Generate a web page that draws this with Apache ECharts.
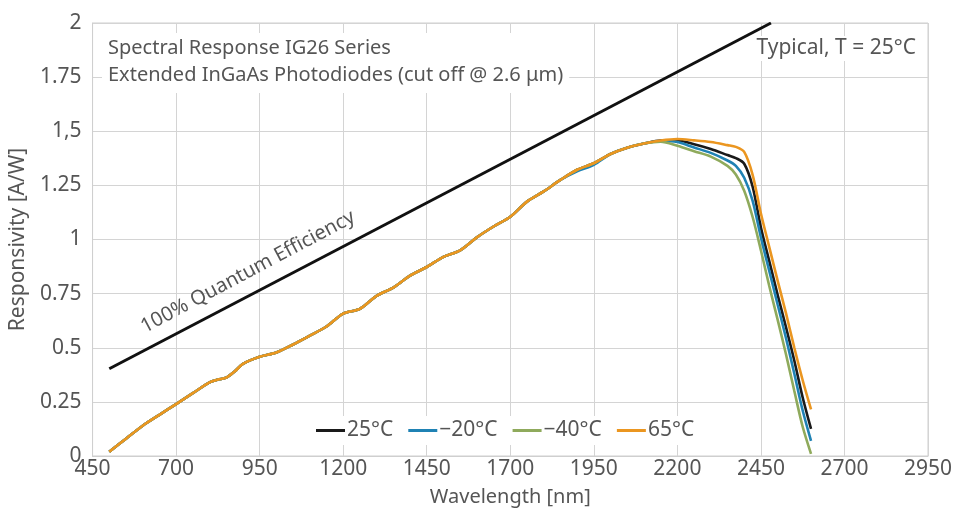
<!DOCTYPE html>
<html>
<head>
<meta charset="utf-8">
<script src="https://cdn.jsdelivr.net/npm/echarts@6/dist/echarts.min.js"></script>
<style>
  html, body { margin: 0; padding: 0; background: #fff; }
  #chart { width: 956px; height: 512px; }
</style>
</head>
<body>
<div id="chart"></div>
<script>
// wavelength grid (nm) shared by the four measured curves
const wavelengths = [500, 550, 600, 650, 700, 750, 800, 825, 850, 875, 900, 950, 1000, 1050, 1100, 1150,
  1200, 1250, 1300, 1350, 1400, 1450, 1500, 1550, 1600, 1650, 1700, 1750, 1800, 1850, 1900, 1950,
  2000, 2050, 2100, 2150, 2200, 2250, 2300, 2350, 2375, 2400, 2425, 2450, 2475, 2500, 2525, 2550, 2575, 2600];

// shared rising part (500 .. 2100 nm)
const rise = [0.02, 0.08, 0.14, 0.19, 0.24, 0.29, 0.34, 0.353, 0.362, 0.39, 0.425, 0.458, 0.478, 0.515, 0.556, 0.598,
  0.658, 0.68, 0.74, 0.778, 0.833, 0.873, 0.92, 0.95, 1.01, 1.06, 1.105, 1.175, 1.222, 1.275, 1.322, 1.352,
  1.395, 1.424, 1.443];

// 2150 .. 2600 nm
const tail25 = [1.457, 1.457, 1.44, 1.418, 1.39, 1.376, 1.35, 1.245, 1.055, 0.9, 0.745, 0.595, 0.44, 0.27, 0.125];
const tailM20 = [1.455, 1.45, 1.425, 1.4, 1.365, 1.34, 1.285, 1.18, 1.01, 0.855, 0.7, 0.545, 0.38, 0.21, 0.07];
const tailM40 = [1.452, 1.433, 1.408, 1.383, 1.34, 1.3, 1.225, 1.105, 0.95, 0.785, 0.63, 0.47, 0.3, 0.135, 0.01];
const tail65 = [1.457, 1.464, 1.458, 1.45, 1.436, 1.428, 1.405, 1.3, 1.12, 0.965, 0.81, 0.66, 0.5, 0.35, 0.215];

const resp25 = rise.concat(tail25);
const respM20 = rise.slice(0, 30).concat([1.315, 1.345], rise.slice(32)).concat(tailM20);
const respM40 = rise.concat(tailM40);
const resp65 = rise.concat(tail65);

// 100% quantum efficiency line
const qeX = [500, 2480];
const qeY = [0.403, 2.0];

const seriesNames = ["25°C", "−20°C", "−40°C", "65°C"];
const seriesColors = ["#1a1a1a", "#1f82b4", "#8faa5c", "#eb9620"];
const seriesValues = [resp25, respM20, respM40, resp65];

const xTicks = [450, 700, 950, 1200, 1450, 1700, 1950, 2200, 2450, 2700, 2950];
const yTicks = [0, 0.25, 0.5, 0.75, 1, 1.25, 1.5, 1.75, 2];
const yTickLabels = ["0", "0.25", "0.5", "0.75", "1", "1.25", "1,5", "1.75", "2"];

function pairs(xs, ys) {
  return xs.map((x, i) => [x, ys[i]]);
}

const textColor = "#555";
const fontFamily = "Noto Sans";

let chart = echarts.init(document.getElementById("chart"));

let series = seriesValues.map((vals, i) => ({
  name: seriesNames[i],
  type: "line",
  data: pairs(wavelengths, vals),
  smooth: 0.3,
  symbol: "none",
  lineStyle: { width: 2.6, color: seriesColors[i] },
  itemStyle: { color: seriesColors[i] },
  z: 3 + i,
}));

series.unshift({
  name: "QE",
  type: "line",
  data: pairs(qeX, qeY),
  symbol: "none",
  lineStyle: { width: 3, color: "#111" },
  z: 2,
});

let option = {
  animation: false,
  backgroundColor: "#fff",
  textStyle: { fontFamily: fontFamily },
  grid: {
    left: 92,
    right: 28,
    top: 23,
    bottom: 56,
    show: true,
    borderColor: "#cfcfcf",
    borderWidth: 1,
  },
  legend: {
    data: seriesNames,
    left: 310,
    top: 416,
    icon: "rect",
    itemWidth: 29,
    itemHeight: 3,
    itemGap: 15,
    padding: [4, 12, 4, 6],
    backgroundColor: "#fff",
    textStyle: { color: textColor, fontSize: 21, padding: [0, 0, 0, -3], fontFamily: fontFamily },
  },
  xAxis: {
    type: "value",
    min: 450,
    max: 2950,
    interval: 250,
    name: "Wavelength [nm]",
    nameLocation: "middle",
    nameGap: 31,
    nameTextStyle: { color: textColor, fontSize: 20 },
    axisLine: { show: true, lineStyle: { color: "#cfcfcf" } },
    axisTick: { show: false },
    axisLabel: {
      color: textColor,
      fontSize: 21,
      margin: 3,
      formatter: (v) => (xTicks.indexOf(v) >= 0 ? String(v) : ""),
    },
    splitLine: { show: true, lineStyle: { color: "#d4d4d4", width: 1 } },
  },
  yAxis: {
    type: "value",
    min: 0,
    max: 2,
    interval: 0.25,
    name: "Responsivity [A/W]",
    nameLocation: "middle",
    nameGap: 52,
    nameTextStyle: { color: textColor, fontSize: 21 },
    axisLine: { show: true, lineStyle: { color: "#cfcfcf" } },
    axisTick: { show: false },
    axisLabel: {
      color: textColor,
      fontSize: 21,
      margin: 11,
      formatter: (v) => {
        let idx = yTicks.findIndex((t) => Math.abs(t - v) < 1e-6);
        return idx >= 0 ? yTickLabels[idx] : "";
      },
    },
    splitLine: { show: true, lineStyle: { color: "#d4d4d4", width: 1 } },
  },
  graphic: [
    {
      type: "text",
      left: 102,
      top: 33,
      z: 10,
      style: {
        text: "Spectral Response IG26 Series\nExtended InGaAs Photodiodes (cut off @ 2.6 μm)",
        fill: textColor,
        font: "20px Noto Sans",
        lineHeight: 27,
        backgroundColor: "#fff",
        padding: [2, 6, 4, 6],
      },
    },
    {
      type: "text",
      right: 34,
      top: 36,
      z: 10,
      style: {
        text: "Typical, T = 25°C",
        fill: textColor,
        font: "21px Noto Sans",
        backgroundColor: "#fff",
        padding: [2, 6, 2, 6],
      },
    },
    {
      type: "text",
      x: 248,
      y: 272,
      rotation: (28 * Math.PI) / 180,
      z: 10,
      style: {
        text: "100% Quantum Efficiency",
        fill: textColor,
        font: "20px Noto Sans",
        align: "center",
        verticalAlign: "middle",
      },
    },
  ],
  series: series,
};

option && chart.setOption(option);
</script>
</body>
</html>
